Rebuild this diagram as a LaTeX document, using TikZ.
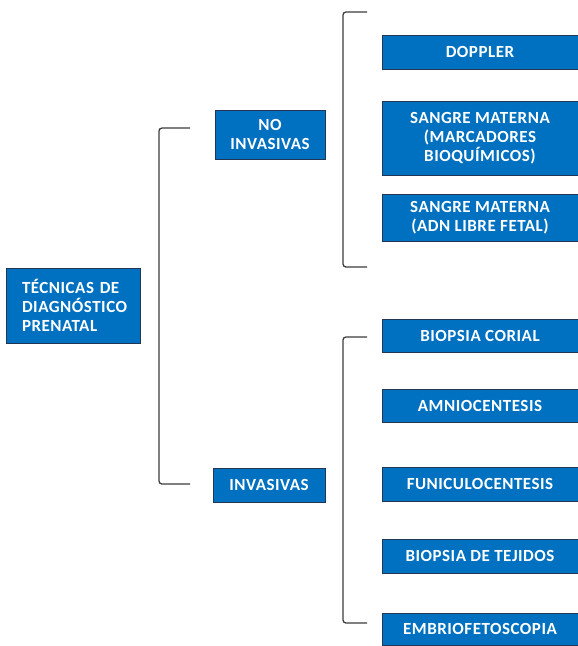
\documentclass[tikz,border=0pt]{standalone}
\usepackage{fontspec}
\setmainfont{Carlito}[LetterSpace=3]
\usepackage{tikz}
\usetikzlibrary{positioning}
\definecolor{boxblue}{RGB}{0,112,192}
\definecolor{boxline}{RGB}{35,55,85}
\definecolor{brace}{RGB}{60,60,60}
\tikzstyle{block} = [draw=boxline, line width=0.9pt, fill=boxblue, rectangle, text=white,
  font=\fontsize{17}{19}\selectfont\bfseries, align=center, inner sep=0pt]
\tikzstyle{leaf} = [block, minimum width=196pt]
\tikzstyle{bracket} = [draw=brace, line width=1.3pt, rounded corners=3pt]

\begin{document}
\begin{tikzpicture}[x=1pt, y=-1pt]
  \useasboundingbox (0,0) rectangle (578,646);
  % root
  \node[block, minimum height=75pt, text width=102pt, inner xsep=16pt, align=left] (root) at (73,305.5)
    {TÉCNICAS DE\\DIAGNÓSTICO\\PRENATAL};
  % groups
  \node[block, minimum width=110pt, minimum height=49pt] (noinv) at (270,134.5) {NO\\INVASIVAS};
  \node[block, minimum width=112pt, minimum height=34pt] (inv) at (269,485) {INVASIVAS};
  % non invasive techniques
  \node[leaf, minimum height=34pt] (doppler) at (480,52) {DOPPLER};
  \node[leaf, minimum height=74pt] (marcadores) at (480,138) {SANGRE MATERNA\\(MARCADORES\\BIOQUÍMICOS)};
  \node[leaf, minimum height=47pt] (adn) at (480,217.5) {SANGRE MATERNA\\(ADN LIBRE FETAL)};
  % invasive techniques
  \node[leaf, minimum height=33pt] (corial) at (480,335.5) {BIOPSIA CORIAL};
  \node[leaf, minimum height=33pt] (amnio) at (480,405.5) {AMNIOCENTESIS};
  \node[leaf, minimum height=34pt] (funiculo) at (480,484) {FUNICULOCENTESIS};
  \node[leaf, minimum height=34pt] (tejidos) at (480,556) {BIOPSIA DE TEJIDOS};
  \node[leaf, minimum height=32pt] (embrio) at (480,629) {EMBRIOFETOSCOPIA};
  % bracket ends
  \coordinate (roottop) at (190,128);
  \coordinate (rootbot) at (190,484);
  \coordinate (noinvtop) at (367,12);
  \coordinate (noinvbot) at (367,267);
  \coordinate (invtop) at (367,337);
  \coordinate (invbot) at (367,623);
  \draw[bracket] (roottop) -- ++(-31,0) |- (rootbot);
  \draw[bracket] (noinvtop) -- ++(-24,0) |- (noinvbot);
  \draw[bracket] (invtop) -- ++(-24,0) |- (invbot);
\end{tikzpicture}
\end{document}
